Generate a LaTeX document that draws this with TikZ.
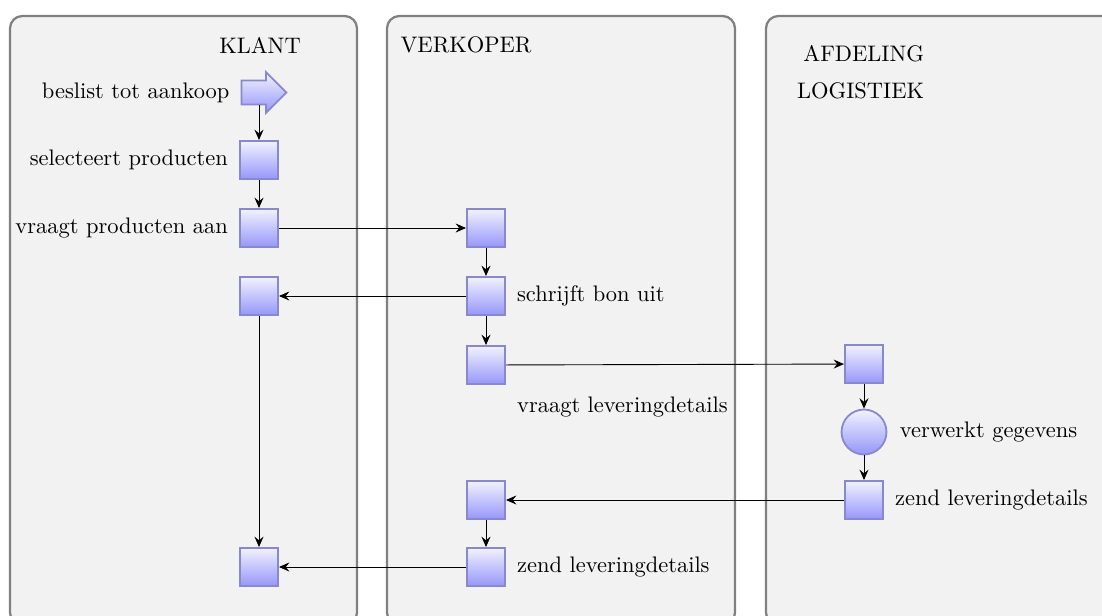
\documentclass[tikz,border=0pt]{standalone}
\usetikzlibrary{positioning,shapes.arrows,arrows.meta}
\definecolor{laneline}{RGB}{128,128,128}
\definecolor{lanefill}{RGB}{242,242,242}
\definecolor{stepline}{RGB}{136,136,204}
\definecolor{steptop}{RGB}{242,242,255}
\definecolor{stepbottom}{RGB}{150,150,250}
\begin{document}
\begin{tikzpicture}[x=0.445pt,y=-0.445pt,
                lane/.style={draw=laneline,fill=lanefill,line width=1pt,rounded corners=5.5pt},
                stepbox/.style={draw=stepline,thick,top color=steptop,bottom color=stepbottom,minimum size=17pt,inner sep=0pt},
                stepround/.style={stepbox,circle,minimum size=20pt},
                startarrow/.style={stepbox,single arrow,minimum size=0pt,minimum height=20pt,inner xsep=0pt,inner ysep=4.9pt,single arrow head extend=3.8pt},
                flow/.style={-{Stealth[length=4.6pt,width=4pt,inset=1.6pt]}}]
                \clip (0,0) rectangle (1102,615);
                \draw[lane] (10,16) rectangle (357,625);
                \draw[lane] (387,16) rectangle (735,625);
                \draw[lane] (766,16) rectangle (1130,625);
                \node (hK) at (260,45) {KLANT};
                \node (hV) at (466,45) {VERKOPER};
                \node[anchor=east,align=right] (hL) at (932,72) {AFDELING\\[4.4pt]LOGISTIEK};
                \node[startarrow] (K0) at (258,92.5) {};
                \node[stepbox] (K1) at (259,160) {};
                \node[stepbox] (K2) at (259,228) {};
                \node[stepbox] (K3) at (259,296) {};
                \node[stepbox] (K4) at (259,567) {};
                \node[stepbox] (V1) at (486,228) {};
                \node[stepbox] (V2) at (486,296) {};
                \node[stepbox] (V3) at (486,365) {};
                \node[stepbox] (V4) at (486,500) {};
                \node[stepbox] (V5) at (486,567) {};
                \node[stepbox] (L1) at (864,364) {};
                \node[stepround] (L2) at (864,432) {};
                \node[stepbox] (L3) at (864,500) {};
                \node[left=0.5mm of K0] (tK0) {beslist tot aankoop};
                \node[left=0.5mm of K1] (tK1) {selecteert producten};
                \node[left=0.5mm of K2] (tK2) {vraagt producten aan};
                \node[right=0.5mm of V2] (tV2) {schrijft bon uit};
                \node[below right=0.6mm and 0.5mm of V3] (tV3) {vraagt leveringdetails};
                \node[right=0.5mm of V5] (tV5) {zend leveringdetails};
                \node[right=0.7mm of L2] (tL2) {verwerkt gegevens};
                \node[right=0.5mm of L3] (tL3) {zend leveringdetails};
                \draw[flow] (K1 |- K0.south) -- (K1);
                \draw[flow] (K1) -- (K2);
                \draw[flow] (K2) -- (V1);
                \draw[flow] (V1) -- (V2);
                \draw[flow] (V2) -- (K3);
                \draw[flow] (V2) -- (V3);
                \draw[flow] (V3) -- (L1);
                \draw[flow] (L1) -- (L2);
                \draw[flow] (L2) -- (L3);
                \draw[flow] (L3) -- (V4);
                \draw[flow] (V4) -- (V5);
                \draw[flow] (V5) -- (K4);
                \draw[flow] (K3) -- (K4);
            \end{tikzpicture}
\end{document}
